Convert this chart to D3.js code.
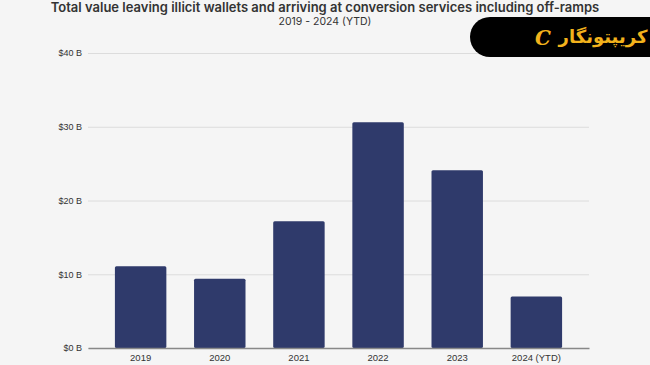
<!DOCTYPE html>
<html>
<head>
<meta charset="utf-8">
<title>Illicit wallets to conversion services</title>
<style>
  html, body { margin: 0; padding: 0; background: #f5f5f5; }
  svg { display: block; }
</style>
</head>
<body>
<div id="chart"></div>
<script src="https://d3js.org/d3.v7.min.js"></script>
<script>
// data (billions USD)
var years  = ["2019", "2020", "2021", "2022", "2023", "2024 (YTD)"];
var values = [11.1, 9.4, 17.2, 30.6, 24.1, 7.0];
var yTicks = [0, 10, 20, 30, 40];

var width = 650, height = 365;
var margin = {top: 53, right: 61, bottom: 17, left: 88};

var svg = d3.select("#chart").append("svg")
    .attr("width", width)
    .attr("height", height);

svg.append("rect").attr("width", width).attr("height", height).attr("fill", "#f5f5f5");

var x = d3.scaleBand()
    .domain(years)
    .range([margin.left, width - margin.right])
    .paddingInner(0.35)
    .paddingOuter(0.34);

var y = d3.scaleLinear()
    .domain([0, 40])
    .range([height - margin.bottom, margin.top]);

// grid + y labels
var yAxis = svg.append("g")
    .attr("transform", "translate(" + margin.left + ",0)")
    .call(d3.axisLeft(y).tickValues(yTicks)
      .tickSize(-(width - margin.left - margin.right))
      .tickPadding(6)
      .tickFormat(function(d){ return "$" + d + " B"; }));
yAxis.select(".domain").remove();
yAxis.selectAll(".tick line").attr("stroke", "#dcdcdc").attr("stroke-width", 1);
yAxis.selectAll(".tick text")
    .attr("fill", "#333")
    .style("font-family", "'Liberation Sans', Arial, sans-serif")
    .style("font-size", "9px");

// bars
svg.selectAll(".bar")
    .data(values)
    .enter().append("rect")
    .attr("class", "bar")
    .attr("x", function(d, i){ return x(years[i]); })
    .attr("y", function(d){ return y(d); })
    .attr("width", x.bandwidth())
    .attr("height", function(d){ return y(0) - y(d); })
    .attr("rx", 1.5)
    .attr("fill", "#2f3a6b");

// x axis baseline
var xAxis = svg.append("g")
    .attr("transform", "translate(0," + y(0) + ")")
    .call(d3.axisBottom(x).tickSize(0).tickPadding(6));
xAxis.select(".domain").attr("stroke", "#888").attr("stroke-width", 1.5);
xAxis.selectAll(".tick text")
    .attr("fill", "#333")
    .style("font-family", "'Liberation Sans', Arial, sans-serif")
    .style("font-size", "9.5px");

// titles
svg.append("text")
    .attr("x", 325).attr("y", 12)
    .attr("text-anchor", "middle")
    .style("font-family", "Inter, 'Open Sans', sans-serif")
    .style("font-weight", "600")
    .style("font-size", "13px")
    .attr("fill", "#333")
    .text("Total value leaving illicit wallets and arriving at conversion services including off-ramps");
svg.append("text")
    .attr("x", 325).attr("y", 25)
    .attr("text-anchor", "middle")
    .style("font-family", "Inter, 'Open Sans', sans-serif")
    .style("font-size", "10.5px")
    .attr("fill", "#333")
    .text("2019 - 2024 (YTD)");

// logo badge
var logo = svg.append("g");
logo.append("path")
    .attr("d", "M650,17 L490,17 A20,20 0 0 0 490,57 L650,57 Z")
    .attr("fill", "#000");
logo.append("text")
    .attr("x", 603).attr("y", 43)
    .attr("text-anchor", "middle")
    .style("font-family", "'Noto Sans', 'DejaVu Sans', sans-serif")
    .style("font-weight", "700")
    .style("font-size", "18px")
    .attr("fill", "#f2b21c")
    .text("کریپتونگار");
logo.append("text")
    .attr("x", 543).attr("y", 45)
    .attr("text-anchor", "middle")
    .style("font-family", "'DejaVu Serif', serif")
    .style("font-style", "italic")
    .style("font-weight", "700")
    .style("font-size", "20px")
    .attr("fill", "#f2b21c")
    .text("C");
</script>
</body>
</html>
